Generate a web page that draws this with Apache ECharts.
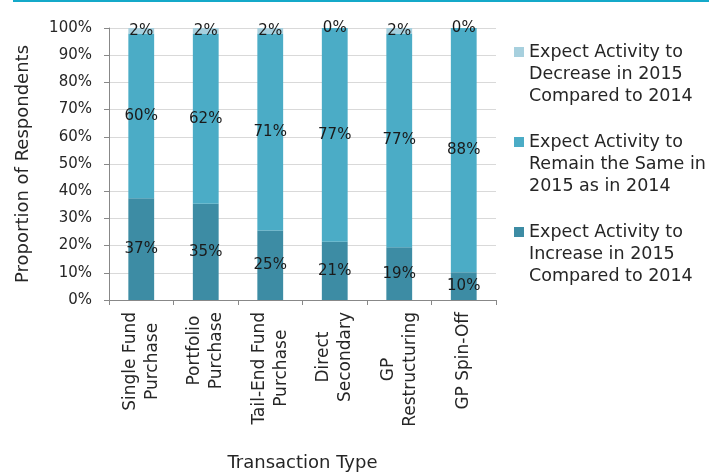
<!DOCTYPE html>
<html>
<head>
<meta charset="utf-8">
<script src="https://cdn.jsdelivr.net/npm/echarts@6/dist/echarts.min.js"></script>
<style>
  html, body { margin: 0; padding: 0; background: #ffffff; }
  #chart { width: 709px; height: 472px; }
</style>
</head>
<body>
<div id="chart"></div>
<script>
// Transaction types on the x axis (line breaks split the two-line labels)
const categories = [
  'Single Fund\nPurchase',
  'Portfolio\nPurchase',
  'Tail-End Fund\nPurchase',
  'Direct\nSecondary',
  'GP\nRestructuring',
  'GP Spin-Off'
];

// Survey answers, percent of respondents
const increaseValues = [37, 35, 25, 21, 19, 10];
const sameValues     = [60, 62, 71, 77, 77, 88];
const decreaseValues = [2, 2, 2, 0, 2, 0];

const seriesNames = [
  'Expect Activity to\nIncrease in 2015\nCompared to 2014',
  'Expect Activity to\nRemain the Same in\n2015 as in 2014',
  'Expect Activity to\nDecrease in 2015\nCompared to 2014'
];

const yTicks = [0, 10, 20, 30, 40, 50, 60, 70, 80, 90, 100];

const FONT = 'DejaVu Sans';
const TEXT = '#262626';

// 100% stacked: each column is scaled to its own total
const totals = categories.map((_, i) => increaseValues[i] + sameValues[i] + decreaseValues[i]);
const share = arr => arr.map((v, i) => v / totals[i] * 100);

function makeSeries(name, values, color) {
  return {
    name: name,
    type: 'bar',
    stack: 'total',
    barWidth: '40%',
    data: share(values),
    itemStyle: { color: color },
    label: {
      show: true,
      position: 'inside',
      color: '#1a1a1a',
      fontFamily: FONT,
      fontSize: 15,
      formatter: p => values[p.dataIndex] + '%'
    },
    emphasis: { disabled: true }
  };
}

const chart = echarts.init(document.getElementById('chart'), null, { renderer: 'canvas' });

chart.setOption({
  animation: false,
  backgroundColor: '#ffffff',
  textStyle: { fontFamily: FONT },
  graphic: [{
    type: 'rect',
    left: 13,
    top: 0,
    shape: { width: 696, height: 2 },
    style: { fill: '#14a9c9' },
    silent: true
  }],
  grid: {
    left: 109, right: 213, top: 28, bottom: 172,
    containLabel: false,
    outerBoundsMode: 'none'
  },
  legend: {
    orient: 'vertical',
    left: 514,
    top: -3,
    padding: 0,
    itemWidth: 10,
    itemHeight: 10,
    itemGap: -20,
    icon: 'rect',
    selectedMode: false,
    data: [seriesNames[2], seriesNames[1], seriesNames[0]],
    // two leading blank lines keep the swatch level with the first text line
    formatter: name => '\n\n' + name,
    textStyle: {
      fontFamily: FONT,
      fontSize: 17.5,
      color: TEXT,
      lineHeight: 22
    }
  },
  xAxis: {
    type: 'category',
    data: categories,
    name: 'Transaction Type',
    nameLocation: 'middle',
    nameGap: 154,
    nameTextStyle: { fontFamily: FONT, fontSize: 18, color: TEXT },
    axisLine: { lineStyle: { color: '#888888', width: 1 } },
    axisTick: { show: true, length: 5, alignWithLabel: false, lineStyle: { color: '#888888' } },
    axisLabel: {
      interval: 0,
      rotate: 90,
      margin: 12,
      formatter: v => v.split('\n').map(s => '{c|' + s + '}').join('\n'),
      rich: {
        c: { align: 'center', fontFamily: FONT, fontSize: 17, color: TEXT, lineHeight: 22 }
      }
    }
  },
  yAxis: {
    type: 'value',
    min: yTicks[0],
    max: yTicks[yTicks.length - 1],
    interval: yTicks[1] - yTicks[0],
    name: 'Proportion of Respondents',
    nameLocation: 'middle',
    nameGap: 77,
    nameTextStyle: { fontFamily: FONT, fontSize: 18, color: TEXT },
    axisLine: { show: true, lineStyle: { color: '#888888', width: 1 } },
    axisTick: { show: true, length: 5, lineStyle: { color: '#888888' } },
    axisLabel: {
      margin: 17,
      fontFamily: FONT,
      fontSize: 15,
      color: TEXT,
      formatter: '{value}%'
    },
    splitLine: { show: true, lineStyle: { color: '#d9d9d9', width: 1 } }
  },
  series: [
    makeSeries(seriesNames[0], increaseValues, '#3d8ca4'),
    makeSeries(seriesNames[1], sameValues, '#4bacc6'),
    makeSeries(seriesNames[2], decreaseValues, '#a7d0de')
  ]
});
</script>
</body>
</html>
